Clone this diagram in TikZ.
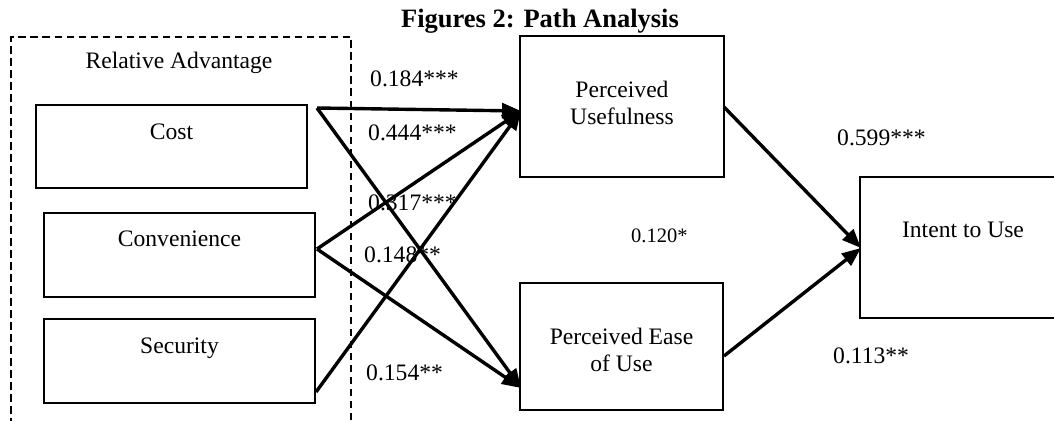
\documentclass[tikz,border=0pt]{standalone}
\usepackage{fontspec}
\setmainfont{Liberation Serif}
\usetikzlibrary{arrows.meta}
\begin{document}
\begin{tikzpicture}[x=1pt,y=-1pt,
  box/.style={draw, line width=1.7pt, rectangle, inner sep=0pt},
  frame/.style={draw, line width=2.6pt, dash pattern=on 7.5pt off 4.5pt, rectangle, inner sep=0pt},
  txt/.style={inner sep=0pt, anchor=base, align=center, font=\fontsize{23.6}{27}\selectfont},
  coef/.style={inner sep=0pt, anchor=base west, font=\fontsize{23.6}{27}\selectfont},
  coefsmall/.style={inner sep=0pt, anchor=base west, font=\fontsize{20.5}{24}\selectfont},
  path/.style={line width=3.4pt, -{Triangle[length=19pt,width=15pt]}}
]
\useasboundingbox (0,0) rectangle (1054,420);
\clip (0,0) rectangle (1054,420);
% title
\node[inner sep=0pt, anchor=base, font=\fontsize{26.5}{30}\selectfont\bfseries] (title) at (540,28) {Figures 2: Path Analysis};
% dashed group frame
\node[frame, minimum width=340pt, minimum height=403pt] (ra) at (181,238.5) {};
\node[txt] (ratext) at (179,68) {Relative Advantage};
% boxes
\node[box, minimum width=271pt, minimum height=83pt] (cost) at (171.5,146.5) {};
\node[box, minimum width=271pt, minimum height=84pt] (conv) at (179.5,255) {};
\node[box, minimum width=271pt, minimum height=84pt] (sec) at (179.5,361) {};
\node[box, minimum width=204pt, minimum height=141pt] (pu) at (622,106.5) {};
\node[box, minimum width=203pt, minimum height=127pt] (peou) at (621.5,346.5) {};
\node[box, minimum width=206pt, minimum height=141pt] (intent) at (963,247.5) {};
% box texts (base = baseline of last line)
\node[txt] (costtext) at (171.5,139) {Cost};
\node[txt] (convtext) at (179.5,246) {Convenience};
\node[txt] (sectext) at (179.5,353) {Security};
\node[txt] (putext) at (622,124) {Perceived\\Usefulness};
\node[txt] (peoutext) at (621.5,371) {Perceived Ease\\of Use};
\node[txt] (intenttext) at (963,237) {Intent to Use};
% coefficients
\node[coef] (c1) at (370,86) {0.184***};
\node[coef] (c2) at (368,140) {0.444***};
\node[coef] (c3) at (368,210) {0.317***};
\node[coef] (c4) at (364,262) {0.148**};
\node[coef] (c5) at (366,380) {0.154**};
\node[coef] (c6) at (837,145) {0.599***};
\node[coef] (c7) at (833,363) {0.113**};
\node[coefsmall] (c8) at (631,242) {0.120*};
% connector ends
\coordinate (costo) at (317,108);
\coordinate (convo) at (317,249);
\coordinate (seco) at (316,392);
\coordinate (puin) at (521,111);
\coordinate (peouin) at (521,388);
\coordinate (puo) at (724,107);
\coordinate (peouo) at (724,356);
\coordinate (intin) at (861,248);
% paths
\draw[path] (costo) -- (puin);
\draw[path] (costo) -- (peouin);
\draw[path] (convo) -- (puin);
\draw[path] (convo) -- (peouin);
\draw[path] (seco) -- (puin);
\draw[path] (puo) -- (intin);
\draw[path] (peouo) -- (intin);
\end{tikzpicture}
\end{document}
